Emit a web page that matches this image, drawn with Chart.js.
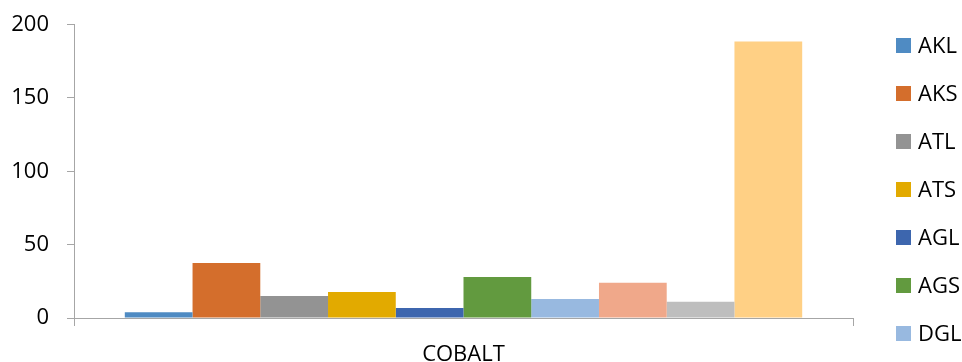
<!DOCTYPE html>
<html>
<head>
<meta charset="utf-8">
<script src="https://cdn.jsdelivr.net/npm/chart.js@4.4.1/dist/chart.umd.min.js"></script>
<style>
  html, body { margin: 0; padding: 0; background: #ffffff; }
  #wrap { width: 962px; height: 362px; position: relative; }
</style>
</head>
<body>
<div id="wrap"><canvas id="chart" width="962" height="362"></canvas></div>
<script>
// Cobalt concentration by sampling group
const categories = ['COBALT'];
const seriesNames = ['AKL', 'AKS', 'ATL', 'ATS', 'AGL', 'AGS', 'DGL', 'DGS', 'DKL', 'DKS'];
const seriesValues = [4, 37.5, 15, 17.7, 6.8, 28, 13, 24, 11, 188.5];
const seriesColors = ['#4f8bc3', '#d46e2c', '#939393', '#e2aa00', '#3d66ae', '#629a3f',
                      '#98b9e0', '#f0a88a', '#bebebe', '#ffd085'];
const yTicks = [0, 50, 100, 150, 200];
const legendCount = 7;

const FONT = '"Open Sans", "Liberation Sans", sans-serif';
const AXIS = '#a6a6a6';

const datasets = seriesNames.map((name, i) => ({
  label: name,
  data: [seriesValues[i]],
  backgroundColor: seriesColors[i],
  borderWidth: 0,
  categoryPercentage: 10 / 11.5,
  barPercentage: 1.0
}));

// Side legend listing the first series entries
const sideLegend = {
  id: 'sideLegend',
  afterDraw(chart) {
    const ctx = chart.ctx;
    ctx.save();
    ctx.font = '22px ' + FONT;
    ctx.textBaseline = 'middle';
    ctx.textAlign = 'left';
    for (let i = 0; i < legendCount; i++) {
      const ds = chart.data.datasets[i];
      const cy = 45.5 + i * 48;
      ctx.fillStyle = ds.backgroundColor;
      ctx.fillRect(896, cy - 7.5, 15, 15);
      ctx.fillStyle = '#000000';
      ctx.fillText(ds.label, 918, cy + 1);
    }
    ctx.restore();
  }
};

new Chart(document.getElementById('chart'), {
  type: 'bar',
  data: { labels: categories, datasets },
  options: {
    responsive: false,
    animation: false,
    layout: { padding: { top: 24.5, right: 109, left: 0, bottom: 0 } },
    plugins: {
      legend: { display: false },
      tooltip: { enabled: false }
    },
    scales: {
      x: {
        offset: true,
        afterFit(scale) { scale.height = 44; },
        grid: {
          offset: true,
          drawOnChartArea: false,
          drawTicks: true,
          tickLength: 8,
          color: AXIS,
          lineWidth: 1
        },
        border: { display: true, color: AXIS, width: 1 },
        ticks: {
          color: '#000000',
          font: { family: FONT, size: 22 },
          padding: 16
        }
      },
      y: {
        min: 0,
        max: 200,
        afterFit(scale) {
          scale.width = 74;
          scale.paddingTop = 0;
          scale.paddingBottom = 0;
        },
        afterBuildTicks(scale) { scale.ticks = yTicks.map(v => ({ value: v })); },
        grid: {
          drawOnChartArea: false,
          drawTicks: true,
          tickLength: 7,
          color: AXIS,
          lineWidth: 1
        },
        border: { display: true, color: AXIS, width: 1 },
        ticks: {
          color: '#000000',
          font: { family: FONT, size: 22 },
          padding: 18
        }
      }
    }
  },
  plugins: [sideLegend]
});
</script>
</body>
</html>
